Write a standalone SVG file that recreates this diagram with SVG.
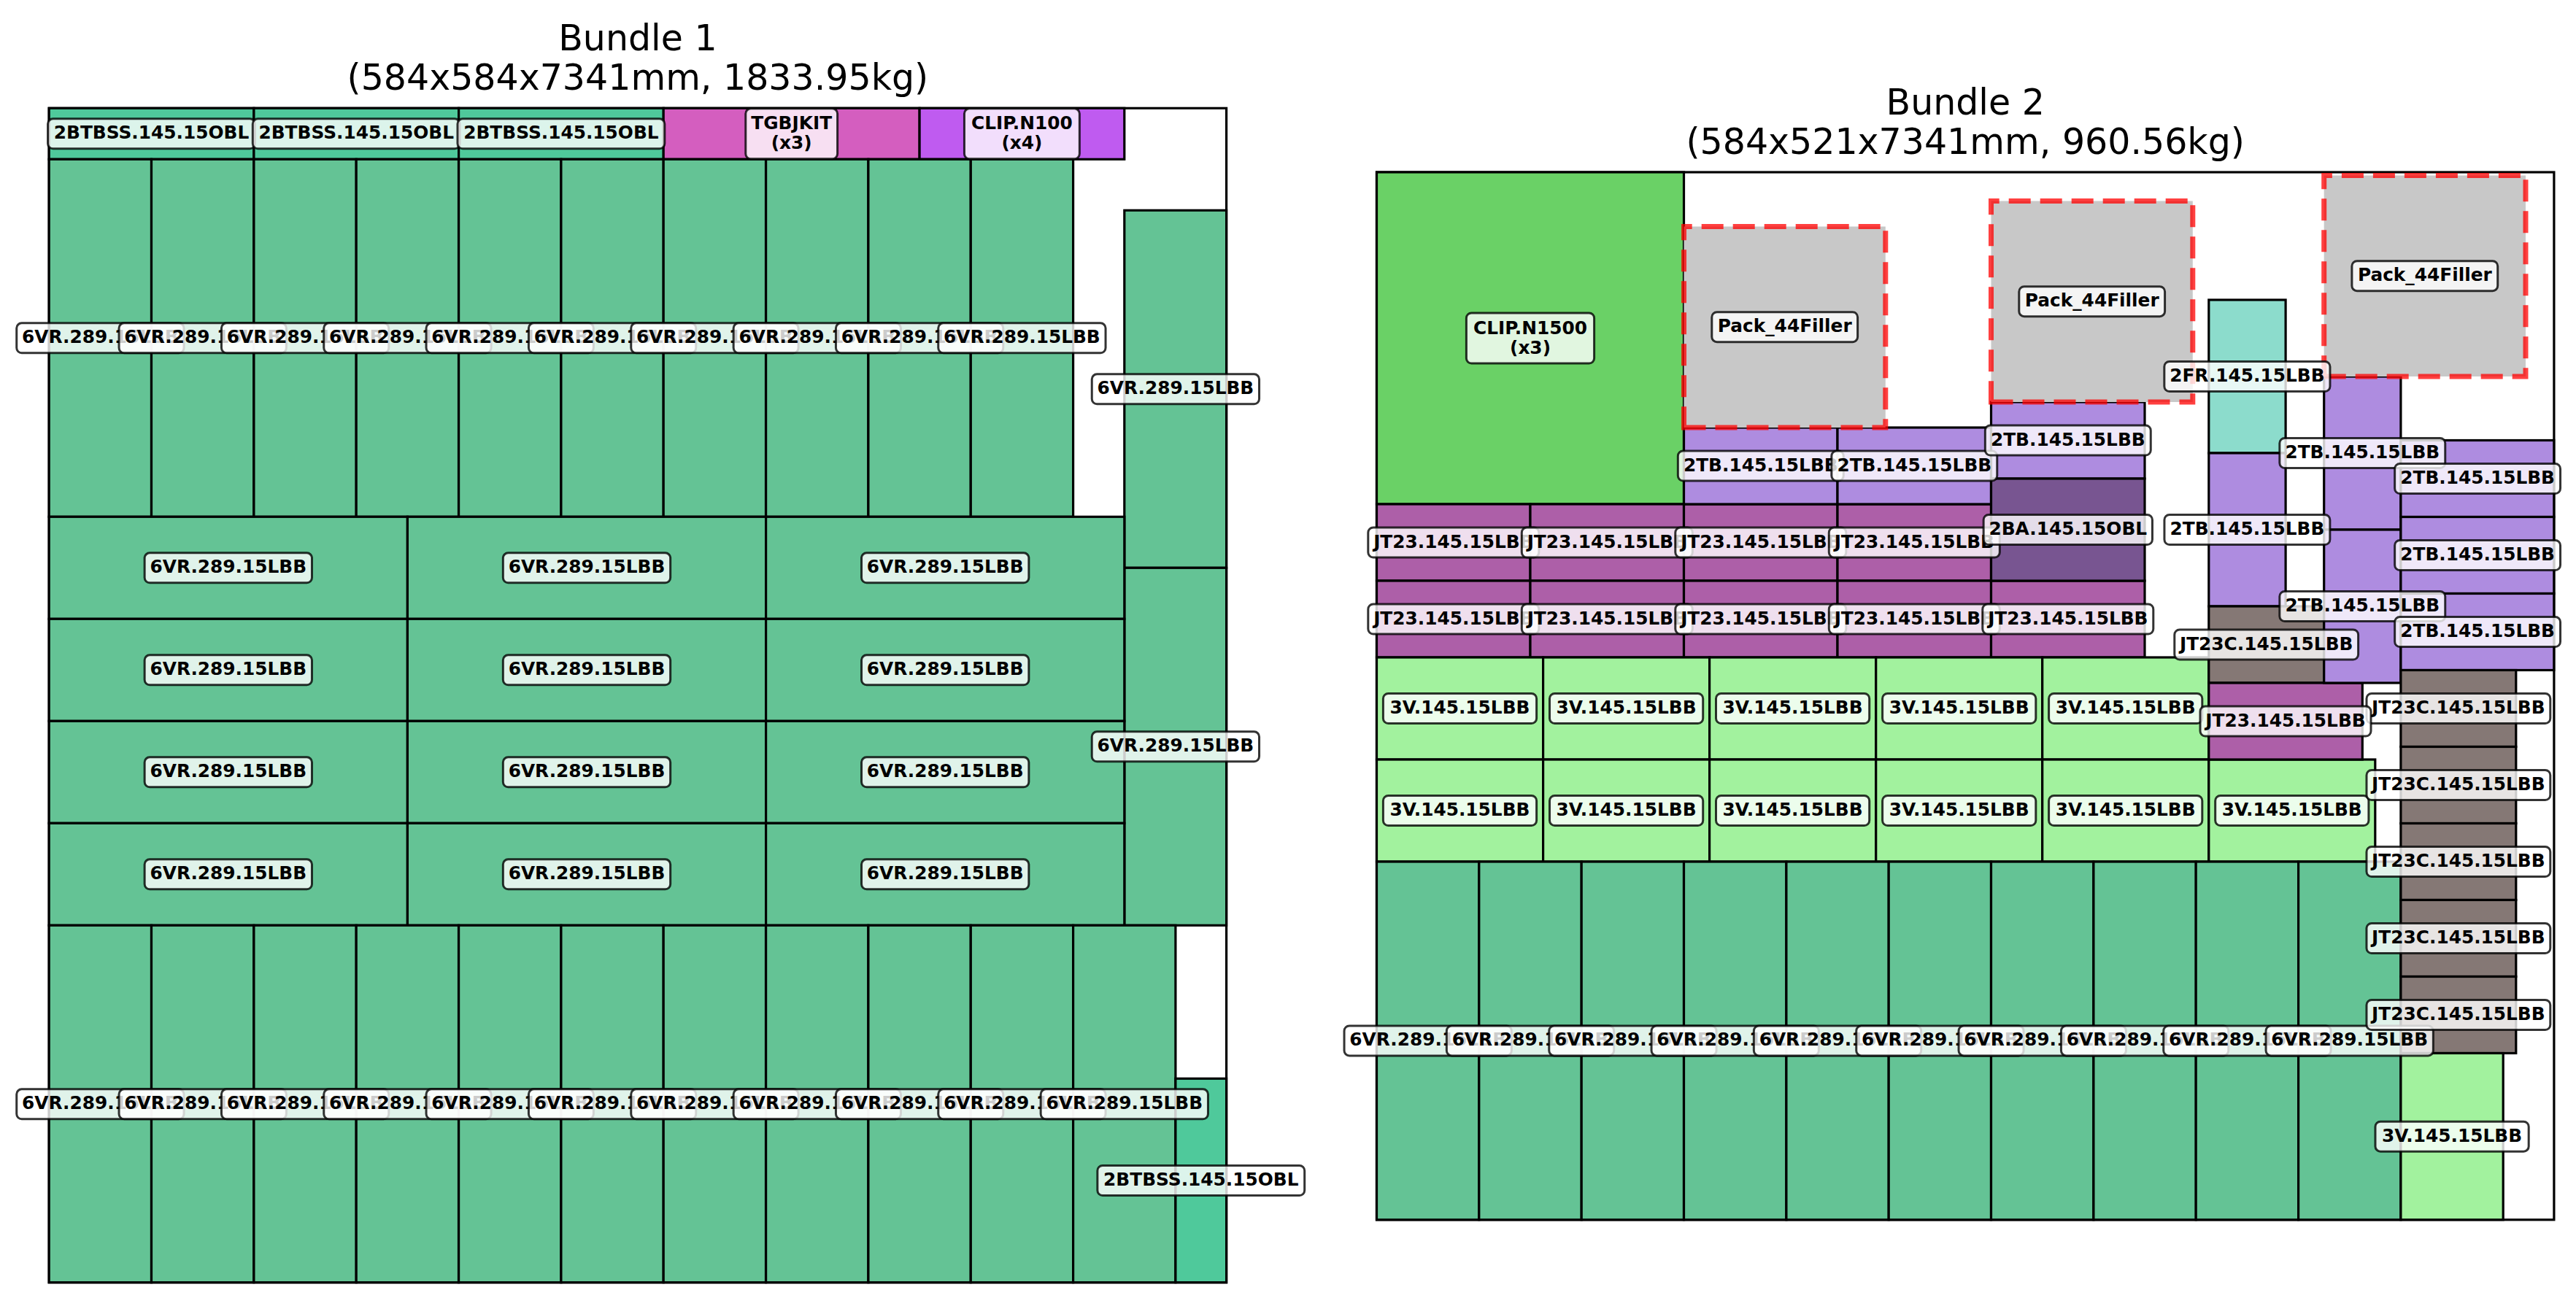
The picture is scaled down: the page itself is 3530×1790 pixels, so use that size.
<svg xmlns="http://www.w3.org/2000/svg" width="3530" height="1790" viewBox="0 0 3530 1790">
<style>
.bg{fill:#fff}
.t{font-family:"DejaVu Sans","Liberation Sans",sans-serif;font-size:49px;text-anchor:middle;fill:#000}
.it{stroke:#000;stroke-width:3.2}
.ol{fill:none;stroke:#000;stroke-width:3.2}
.v6{fill:#64c395}.bt{fill:#4fc99b}.tg{fill:#d45ebf}.cn{fill:#bf5bf0}.cl{fill:#6ad166}.jt{fill:#ad5fa8}.tb{fill:#ae8ce0}.ba{fill:#785591}.v3{fill:#a2f29e}.fr{fill:#8cdccc}.jc{fill:#857875}
.fl{fill:#c8c8c8;stroke:#ff0000;stroke-opacity:.75;stroke-width:7;stroke-dasharray:30 13}
.lb rect{fill:#fff;fill-opacity:.8;stroke:#000;stroke-opacity:.8;stroke-width:3}
.lb text{font-family:"DejaVu Sans","Liberation Sans",sans-serif;font-weight:bold;font-size:24.8px;text-anchor:middle;fill:#000}
</style>
<rect class="bg" x="0" y="0" width="3530" height="1790"/>

<g id="titles">
<text class="t" x="873.9" y="69">Bundle 1</text>
<text class="t" x="873.9" y="123.3">(584x584x7341mm, 1833.95kg)</text>
<text class="t" x="2693.2" y="156.7">Bundle 2</text>
<text class="t" x="2693.2" y="211">(584x521x7341mm, 960.56kg)</text>
</g>

<!-- ================= BUNDLE 1 ================= -->
<g id="bundle1">
<rect id="b1-outline" class="ol" x="67.2" y="148.3" width="1613.4" height="1609.4"/>
<g id="b1-top-2btbss-1"><rect class="it bt" x="67.2" y="148.3" width="280.7" height="70"/></g>
<g id="b1-top-2btbss-2"><rect class="it bt" x="347.9" y="148.3" width="280.7" height="70"/></g>
<g id="b1-top-2btbss-3"><rect class="it bt" x="628.6" y="148.3" width="280.7" height="70"/></g>
<g id="b1-tgbjkit"><rect class="it tg" x="909.2" y="148.3" width="350.9" height="70"/></g>
<g id="b1-clipn100"><rect class="it cn" x="1260.1" y="148.3" width="280.7" height="70"/></g>

<g id="b1-r2-6vr-1"><rect class="it v6" x="67.2" y="218.3" width="140.3" height="490"/></g>
<g id="b1-r2-6vr-2"><rect class="it v6" x="207.5" y="218.3" width="140.3" height="490"/></g>
<g id="b1-r2-6vr-3"><rect class="it v6" x="347.9" y="218.3" width="140.3" height="490"/></g>
<g id="b1-r2-6vr-4"><rect class="it v6" x="488.2" y="218.3" width="140.3" height="490"/></g>
<g id="b1-r2-6vr-5"><rect class="it v6" x="628.6" y="218.3" width="140.3" height="490"/></g>
<g id="b1-r2-6vr-6"><rect class="it v6" x="768.9" y="218.3" width="140.3" height="490"/></g>
<g id="b1-r2-6vr-7"><rect class="it v6" x="909.2" y="218.3" width="140.3" height="490"/></g>
<g id="b1-r2-6vr-8"><rect class="it v6" x="1049.6" y="218.3" width="140.3" height="490"/></g>
<g id="b1-r2-6vr-9"><rect class="it v6" x="1189.9" y="218.3" width="140.3" height="490"/></g>
<g id="b1-r2-6vr-10"><rect class="it v6" x="1330.3" y="218.3" width="140.3" height="490"/></g>

<g id="b1-rc-6vr-1"><rect class="it v6" x="1540.8" y="288.3" width="139.8" height="490"/></g>
<g id="b1-rc-6vr-2"><rect class="it v6" x="1540.8" y="778.3" width="139.8" height="490"/></g>

<g id="b1-h-6vr-1"><rect class="it v6" x="67.2" y="708.3" width="491.2" height="140"/></g>
<g id="b1-h-6vr-2"><rect class="it v6" x="558.4" y="708.3" width="491.2" height="140"/></g>
<g id="b1-h-6vr-3"><rect class="it v6" x="1049.6" y="708.3" width="491.2" height="140"/></g>
<g id="b1-h-6vr-4"><rect class="it v6" x="67.2" y="848.3" width="491.2" height="140"/></g>
<g id="b1-h-6vr-5"><rect class="it v6" x="558.4" y="848.3" width="491.2" height="140"/></g>
<g id="b1-h-6vr-6"><rect class="it v6" x="1049.6" y="848.3" width="491.2" height="140"/></g>
<g id="b1-h-6vr-7"><rect class="it v6" x="67.2" y="988.3" width="491.2" height="140"/></g>
<g id="b1-h-6vr-8"><rect class="it v6" x="558.4" y="988.3" width="491.2" height="140"/></g>
<g id="b1-h-6vr-9"><rect class="it v6" x="1049.6" y="988.3" width="491.2" height="140"/></g>
<g id="b1-h-6vr-10"><rect class="it v6" x="67.2" y="1128.3" width="491.2" height="140"/></g>
<g id="b1-h-6vr-11"><rect class="it v6" x="558.4" y="1128.3" width="491.2" height="140"/></g>
<g id="b1-h-6vr-12"><rect class="it v6" x="1049.6" y="1128.3" width="491.2" height="140"/></g>

<g id="b1-bot-6vr-1"><rect class="it v6" x="67.2" y="1268.3" width="140.3" height="489.4"/></g>
<g id="b1-bot-6vr-2"><rect class="it v6" x="207.5" y="1268.3" width="140.3" height="489.4"/></g>
<g id="b1-bot-6vr-3"><rect class="it v6" x="347.9" y="1268.3" width="140.3" height="489.4"/></g>
<g id="b1-bot-6vr-4"><rect class="it v6" x="488.2" y="1268.3" width="140.3" height="489.4"/></g>
<g id="b1-bot-6vr-5"><rect class="it v6" x="628.6" y="1268.3" width="140.3" height="489.4"/></g>
<g id="b1-bot-6vr-6"><rect class="it v6" x="768.9" y="1268.3" width="140.3" height="489.4"/></g>
<g id="b1-bot-6vr-7"><rect class="it v6" x="909.2" y="1268.3" width="140.3" height="489.4"/></g>
<g id="b1-bot-6vr-8"><rect class="it v6" x="1049.6" y="1268.3" width="140.3" height="489.4"/></g>
<g id="b1-bot-6vr-9"><rect class="it v6" x="1189.9" y="1268.3" width="140.3" height="489.4"/></g>
<g id="b1-bot-6vr-10"><rect class="it v6" x="1330.3" y="1268.3" width="140.3" height="489.4"/></g>
<g id="b1-bot-6vr-11"><rect class="it v6" x="1470.6" y="1268.3" width="140.3" height="489.4"/></g>
<g id="b1-2btbss-v"><rect class="it bt" x="1610.9" y="1478.3" width="69.7" height="279.4"/></g>
</g>

<!-- ================= BUNDLE 2 ================= -->
<g id="bundle2">
<rect id="b2-outline" class="ol" x="1886.5" y="236" width="1613.4" height="1435.8"/>
<g id="b2-clipn1500"><rect class="it cl" x="1886.5" y="236" width="421" height="455"/></g>

<g id="b2-jt23-r1-1"><rect class="it jt" x="1886.5" y="691" width="210.5" height="105"/></g>
<g id="b2-jt23-r1-2"><rect class="it jt" x="2097" y="691" width="210.5" height="105"/></g>
<g id="b2-jt23-r1-3"><rect class="it jt" x="2307.5" y="691" width="210.5" height="105"/></g>
<g id="b2-jt23-r1-4"><rect class="it jt" x="2518" y="691" width="210.5" height="105"/></g>
<g id="b2-jt23-r2-1"><rect class="it jt" x="1886.5" y="796" width="210.5" height="105"/></g>
<g id="b2-jt23-r2-2"><rect class="it jt" x="2097" y="796" width="210.5" height="105"/></g>
<g id="b2-jt23-r2-3"><rect class="it jt" x="2307.5" y="796" width="210.5" height="105"/></g>
<g id="b2-jt23-r2-4"><rect class="it jt" x="2518" y="796" width="210.5" height="105"/></g>
<g id="b2-jt23-r2-5"><rect class="it jt" x="2728.5" y="796" width="210.5" height="105"/></g>

<g id="b2-2tb-a"><rect class="it tb" x="2307.5" y="586" width="210.5" height="105"/></g>
<g id="b2-2tb-b"><rect class="it tb" x="2518" y="586" width="210.5" height="105"/></g>
<g id="b2-2tb-c"><rect class="it tb" x="2728.5" y="551" width="210.5" height="105"/></g>
<g id="b2-2ba"><rect class="it ba" x="2728.5" y="656" width="210.5" height="140"/></g>

<g id="b2-3v-r1-1"><rect class="it v3" x="1886.5" y="901" width="228.1" height="140"/></g>
<g id="b2-3v-r1-2"><rect class="it v3" x="2114.6" y="901" width="228" height="140"/></g>
<g id="b2-3v-r1-3"><rect class="it v3" x="2342.6" y="901" width="228.1" height="140"/></g>
<g id="b2-3v-r1-4"><rect class="it v3" x="2570.7" y="901" width="228" height="140"/></g>
<g id="b2-3v-r1-5"><rect class="it v3" x="2798.7" y="901" width="228.1" height="140"/></g>
<g id="b2-3v-r2-1"><rect class="it v3" x="1886.5" y="1041" width="228.1" height="140"/></g>
<g id="b2-3v-r2-2"><rect class="it v3" x="2114.6" y="1041" width="228" height="140"/></g>
<g id="b2-3v-r2-3"><rect class="it v3" x="2342.6" y="1041" width="228.1" height="140"/></g>
<g id="b2-3v-r2-4"><rect class="it v3" x="2570.7" y="1041" width="228" height="140"/></g>
<g id="b2-3v-r2-5"><rect class="it v3" x="2798.7" y="1041" width="228.1" height="140"/></g>
<g id="b2-3v-r2-6"><rect class="it v3" x="3026.8" y="1041" width="228" height="140"/></g>

<g id="b2-6vr-1"><rect class="it v6" x="1886.5" y="1181" width="140.3" height="490.8"/></g>
<g id="b2-6vr-2"><rect class="it v6" x="2026.8" y="1181" width="140.4" height="490.8"/></g>
<g id="b2-6vr-3"><rect class="it v6" x="2167.2" y="1181" width="140.3" height="490.8"/></g>
<g id="b2-6vr-4"><rect class="it v6" x="2307.5" y="1181" width="140.4" height="490.8"/></g>
<g id="b2-6vr-5"><rect class="it v6" x="2447.9" y="1181" width="140.3" height="490.8"/></g>
<g id="b2-6vr-6"><rect class="it v6" x="2588.2" y="1181" width="140.3" height="490.8"/></g>
<g id="b2-6vr-7"><rect class="it v6" x="2728.5" y="1181" width="140.4" height="490.8"/></g>
<g id="b2-6vr-8"><rect class="it v6" x="2868.9" y="1181" width="140.3" height="490.8"/></g>
<g id="b2-6vr-9"><rect class="it v6" x="3009.2" y="1181" width="140.4" height="490.8"/></g>
<g id="b2-6vr-10"><rect class="it v6" x="3149.6" y="1181" width="140.3" height="490.8"/></g>

<g id="b2-2fr"><rect class="it fr" x="3026.8" y="411" width="105.3" height="210"/></g>
<g id="b2-2tb-d"><rect class="it tb" x="3026.8" y="621" width="105.3" height="210"/></g>
<g id="b2-jt23c-a"><rect class="it jc" x="3026.8" y="831" width="157.9" height="105"/></g>
<g id="b2-jt23-x"><rect class="it jt" x="3026.8" y="936" width="210.5" height="105"/></g>
<g id="b2-2tb-e"><rect class="it tb" x="3184.7" y="516" width="105.2" height="210"/></g>
<g id="b2-2tb-f"><rect class="it tb" x="3184.7" y="726" width="105.2" height="210"/></g>
<g id="b2-2tb-g"><rect class="it tb" x="3289.9" y="603.5" width="209.9" height="105"/></g>
<g id="b2-2tb-h"><rect class="it tb" x="3289.9" y="708.5" width="209.9" height="105"/></g>
<g id="b2-2tb-i"><rect class="it tb" x="3289.9" y="813.5" width="209.9" height="105"/></g>
<g id="b2-jt23c-1"><rect class="it jc" x="3289.9" y="918.5" width="157.9" height="105"/></g>
<g id="b2-jt23c-2"><rect class="it jc" x="3289.9" y="1023.5" width="157.9" height="105"/></g>
<g id="b2-jt23c-3"><rect class="it jc" x="3289.9" y="1128.5" width="157.9" height="105"/></g>
<g id="b2-jt23c-4"><rect class="it jc" x="3289.9" y="1233.5" width="157.9" height="105"/></g>
<g id="b2-jt23c-5"><rect class="it jc" x="3289.9" y="1338.5" width="157.9" height="105"/></g>
<g id="b2-3v-vert"><rect class="it v3" x="3289.9" y="1443.5" width="140.3" height="228.3"/></g>

<g id="b2-filler-1"><path class="fl" d="M2307.5,586H2583.8V310.4H2307.5Z"/></g>
<g id="b2-filler-2"><path class="fl" d="M2728.5,551H3004.8V275.4H2728.5Z"/></g>
<g id="b2-filler-3"><path class="fl" d="M3184.7,516H3461V240.4H3184.7Z"/></g>
</g>

<!-- ================= LABELS ================= -->
<g id="labels-b1">
<g class="lb" transform="translate(137.4,1513.3)"><rect x="-114.65" y="-20.5" width="229.3" height="41" rx="7"/><text y="7">6VR.289.15LBB</text></g>
<g class="lb" transform="translate(277.7,1513.3)"><rect x="-114.65" y="-20.5" width="229.3" height="41" rx="7"/><text y="7">6VR.289.15LBB</text></g>
<g class="lb" transform="translate(418.1,1513.3)"><rect x="-114.65" y="-20.5" width="229.3" height="41" rx="7"/><text y="7">6VR.289.15LBB</text></g>
<g class="lb" transform="translate(558.4,1513.3)"><rect x="-114.65" y="-20.5" width="229.3" height="41" rx="7"/><text y="7">6VR.289.15LBB</text></g>
<g class="lb" transform="translate(698.7,1513.3)"><rect x="-114.65" y="-20.5" width="229.3" height="41" rx="7"/><text y="7">6VR.289.15LBB</text></g>
<g class="lb" transform="translate(839.1,1513.3)"><rect x="-114.65" y="-20.5" width="229.3" height="41" rx="7"/><text y="7">6VR.289.15LBB</text></g>
<g class="lb" transform="translate(979.4,1513.3)"><rect x="-114.65" y="-20.5" width="229.3" height="41" rx="7"/><text y="7">6VR.289.15LBB</text></g>
<g class="lb" transform="translate(1119.8,1513.3)"><rect x="-114.65" y="-20.5" width="229.3" height="41" rx="7"/><text y="7">6VR.289.15LBB</text></g>
<g class="lb" transform="translate(1260.1,1513.3)"><rect x="-114.65" y="-20.5" width="229.3" height="41" rx="7"/><text y="7">6VR.289.15LBB</text></g>
<g class="lb" transform="translate(1400.4,1513.3)"><rect x="-114.65" y="-20.5" width="229.3" height="41" rx="7"/><text y="7">6VR.289.15LBB</text></g>
<g class="lb" transform="translate(1540.8,1513.3)"><rect x="-114.65" y="-20.5" width="229.3" height="41" rx="7"/><text y="7">6VR.289.15LBB</text></g>
<g class="lb" transform="translate(1645.8,1618)"><rect x="-141.9" y="-20.5" width="283.8" height="41" rx="7"/><text y="7">2BTBSS.145.15OBL</text></g>

<g class="lb" transform="translate(312.8,778.3)"><rect x="-114.65" y="-20.5" width="229.3" height="41" rx="7"/><text y="7">6VR.289.15LBB</text></g>
<g class="lb" transform="translate(804,778.3)"><rect x="-114.65" y="-20.5" width="229.3" height="41" rx="7"/><text y="7">6VR.289.15LBB</text></g>
<g class="lb" transform="translate(1295.2,778.3)"><rect x="-114.65" y="-20.5" width="229.3" height="41" rx="7"/><text y="7">6VR.289.15LBB</text></g>
<g class="lb" transform="translate(312.8,918.3)"><rect x="-114.65" y="-20.5" width="229.3" height="41" rx="7"/><text y="7">6VR.289.15LBB</text></g>
<g class="lb" transform="translate(804,918.3)"><rect x="-114.65" y="-20.5" width="229.3" height="41" rx="7"/><text y="7">6VR.289.15LBB</text></g>
<g class="lb" transform="translate(1295.2,918.3)"><rect x="-114.65" y="-20.5" width="229.3" height="41" rx="7"/><text y="7">6VR.289.15LBB</text></g>
<g class="lb" transform="translate(312.8,1058.3)"><rect x="-114.65" y="-20.5" width="229.3" height="41" rx="7"/><text y="7">6VR.289.15LBB</text></g>
<g class="lb" transform="translate(804,1058.3)"><rect x="-114.65" y="-20.5" width="229.3" height="41" rx="7"/><text y="7">6VR.289.15LBB</text></g>
<g class="lb" transform="translate(1295.2,1058.3)"><rect x="-114.65" y="-20.5" width="229.3" height="41" rx="7"/><text y="7">6VR.289.15LBB</text></g>
<g class="lb" transform="translate(312.8,1198.3)"><rect x="-114.65" y="-20.5" width="229.3" height="41" rx="7"/><text y="7">6VR.289.15LBB</text></g>
<g class="lb" transform="translate(804,1198.3)"><rect x="-114.65" y="-20.5" width="229.3" height="41" rx="7"/><text y="7">6VR.289.15LBB</text></g>
<g class="lb" transform="translate(1295.2,1198.3)"><rect x="-114.65" y="-20.5" width="229.3" height="41" rx="7"/><text y="7">6VR.289.15LBB</text></g>

<g class="lb" transform="translate(1610.9,1023.3)"><rect x="-114.65" y="-20.5" width="229.3" height="41" rx="7"/><text y="7">6VR.289.15LBB</text></g>
<g class="lb" transform="translate(1610.9,533.3)"><rect x="-114.65" y="-20.5" width="229.3" height="41" rx="7"/><text y="7">6VR.289.15LBB</text></g>

<g class="lb" transform="translate(137.4,463.3)"><rect x="-114.65" y="-20.5" width="229.3" height="41" rx="7"/><text y="7">6VR.289.15LBB</text></g>
<g class="lb" transform="translate(277.7,463.3)"><rect x="-114.65" y="-20.5" width="229.3" height="41" rx="7"/><text y="7">6VR.289.15LBB</text></g>
<g class="lb" transform="translate(418.1,463.3)"><rect x="-114.65" y="-20.5" width="229.3" height="41" rx="7"/><text y="7">6VR.289.15LBB</text></g>
<g class="lb" transform="translate(558.4,463.3)"><rect x="-114.65" y="-20.5" width="229.3" height="41" rx="7"/><text y="7">6VR.289.15LBB</text></g>
<g class="lb" transform="translate(698.7,463.3)"><rect x="-114.65" y="-20.5" width="229.3" height="41" rx="7"/><text y="7">6VR.289.15LBB</text></g>
<g class="lb" transform="translate(839.1,463.3)"><rect x="-114.65" y="-20.5" width="229.3" height="41" rx="7"/><text y="7">6VR.289.15LBB</text></g>
<g class="lb" transform="translate(979.4,463.3)"><rect x="-114.65" y="-20.5" width="229.3" height="41" rx="7"/><text y="7">6VR.289.15LBB</text></g>
<g class="lb" transform="translate(1119.8,463.3)"><rect x="-114.65" y="-20.5" width="229.3" height="41" rx="7"/><text y="7">6VR.289.15LBB</text></g>
<g class="lb" transform="translate(1260.1,463.3)"><rect x="-114.65" y="-20.5" width="229.3" height="41" rx="7"/><text y="7">6VR.289.15LBB</text></g>
<g class="lb" transform="translate(1400.4,463.3)"><rect x="-114.65" y="-20.5" width="229.3" height="41" rx="7"/><text y="7">6VR.289.15LBB</text></g>

<g class="lb" transform="translate(207.5,183.3)"><rect x="-141.9" y="-20.5" width="283.8" height="41" rx="7"/><text y="7">2BTBSS.145.15OBL</text></g>
<g class="lb" transform="translate(488.2,183.3)"><rect x="-141.9" y="-20.5" width="283.8" height="41" rx="7"/><text y="7">2BTBSS.145.15OBL</text></g>
<g class="lb" transform="translate(768.9,183.3)"><rect x="-141.9" y="-20.5" width="283.8" height="41" rx="7"/><text y="7">2BTBSS.145.15OBL</text></g>
<g class="lb" transform="translate(1084.7,183.3)"><rect x="-62.9" y="-34.5" width="125.8" height="69" rx="7"/><text><tspan x="0" y="-6">TGBJKIT</tspan><tspan x="0" y="21">(x3)</tspan></text></g>
<g class="lb" transform="translate(1400.4,183.3)"><rect x="-78.95" y="-34.5" width="157.9" height="69" rx="7"/><text><tspan x="0" y="-6">CLIP.N100</tspan><tspan x="0" y="21">(x4)</tspan></text></g>
</g>

<g id="labels-b2">
<g class="lb" transform="translate(1956.7,1426.4)"><rect x="-114.65" y="-20.5" width="229.3" height="41" rx="7"/><text y="7">6VR.289.15LBB</text></g>
<g class="lb" transform="translate(2097,1426.4)"><rect x="-114.65" y="-20.5" width="229.3" height="41" rx="7"/><text y="7">6VR.289.15LBB</text></g>
<g class="lb" transform="translate(2237.4,1426.4)"><rect x="-114.65" y="-20.5" width="229.3" height="41" rx="7"/><text y="7">6VR.289.15LBB</text></g>
<g class="lb" transform="translate(2377.7,1426.4)"><rect x="-114.65" y="-20.5" width="229.3" height="41" rx="7"/><text y="7">6VR.289.15LBB</text></g>
<g class="lb" transform="translate(2518,1426.4)"><rect x="-114.65" y="-20.5" width="229.3" height="41" rx="7"/><text y="7">6VR.289.15LBB</text></g>
<g class="lb" transform="translate(2658.4,1426.4)"><rect x="-114.65" y="-20.5" width="229.3" height="41" rx="7"/><text y="7">6VR.289.15LBB</text></g>
<g class="lb" transform="translate(2798.7,1426.4)"><rect x="-114.65" y="-20.5" width="229.3" height="41" rx="7"/><text y="7">6VR.289.15LBB</text></g>
<g class="lb" transform="translate(2939.1,1426.4)"><rect x="-114.65" y="-20.5" width="229.3" height="41" rx="7"/><text y="7">6VR.289.15LBB</text></g>
<g class="lb" transform="translate(3079.4,1426.4)"><rect x="-114.65" y="-20.5" width="229.3" height="41" rx="7"/><text y="7">6VR.289.15LBB</text></g>
<g class="lb" transform="translate(3219.7,1426.4)"><rect x="-114.65" y="-20.5" width="229.3" height="41" rx="7"/><text y="7">6VR.289.15LBB</text></g>

<g class="lb" transform="translate(2000.5,1111)"><rect x="-105.1" y="-20.5" width="210.2" height="41" rx="7"/><text y="7">3V.145.15LBB</text></g>
<g class="lb" transform="translate(2228.6,1111)"><rect x="-105.1" y="-20.5" width="210.2" height="41" rx="7"/><text y="7">3V.145.15LBB</text></g>
<g class="lb" transform="translate(2456.6,1111)"><rect x="-105.1" y="-20.5" width="210.2" height="41" rx="7"/><text y="7">3V.145.15LBB</text></g>
<g class="lb" transform="translate(2684.7,1111)"><rect x="-105.1" y="-20.5" width="210.2" height="41" rx="7"/><text y="7">3V.145.15LBB</text></g>
<g class="lb" transform="translate(2912.7,1111)"><rect x="-105.1" y="-20.5" width="210.2" height="41" rx="7"/><text y="7">3V.145.15LBB</text></g>
<g class="lb" transform="translate(3140.8,1111)"><rect x="-105.1" y="-20.5" width="210.2" height="41" rx="7"/><text y="7">3V.145.15LBB</text></g>
<g class="lb" transform="translate(3360.1,1557.7)"><rect x="-105.1" y="-20.5" width="210.2" height="41" rx="7"/><text y="7">3V.145.15LBB</text></g>
<g class="lb" transform="translate(2000.5,971)"><rect x="-105.1" y="-20.5" width="210.2" height="41" rx="7"/><text y="7">3V.145.15LBB</text></g>
<g class="lb" transform="translate(2228.6,971)"><rect x="-105.1" y="-20.5" width="210.2" height="41" rx="7"/><text y="7">3V.145.15LBB</text></g>
<g class="lb" transform="translate(2456.6,971)"><rect x="-105.1" y="-20.5" width="210.2" height="41" rx="7"/><text y="7">3V.145.15LBB</text></g>
<g class="lb" transform="translate(2684.7,971)"><rect x="-105.1" y="-20.5" width="210.2" height="41" rx="7"/><text y="7">3V.145.15LBB</text></g>
<g class="lb" transform="translate(2912.7,971)"><rect x="-105.1" y="-20.5" width="210.2" height="41" rx="7"/><text y="7">3V.145.15LBB</text></g>

<g class="lb" transform="translate(3368.9,1391)"><rect x="-125.9" y="-20.5" width="251.8" height="41" rx="7"/><text y="7">JT23C.145.15LBB</text></g>
<g class="lb" transform="translate(3368.9,1286)"><rect x="-125.9" y="-20.5" width="251.8" height="41" rx="7"/><text y="7">JT23C.145.15LBB</text></g>
<g class="lb" transform="translate(3368.9,1181)"><rect x="-125.9" y="-20.5" width="251.8" height="41" rx="7"/><text y="7">JT23C.145.15LBB</text></g>
<g class="lb" transform="translate(3368.9,1076)"><rect x="-125.9" y="-20.5" width="251.8" height="41" rx="7"/><text y="7">JT23C.145.15LBB</text></g>
<g class="lb" transform="translate(3368.9,971)"><rect x="-125.9" y="-20.5" width="251.8" height="41" rx="7"/><text y="7">JT23C.145.15LBB</text></g>
<g class="lb" transform="translate(3132,988.5)"><rect x="-117" y="-20.5" width="234" height="41" rx="7"/><text y="7">JT23.145.15LBB</text></g>
<g class="lb" transform="translate(3105.7,883.5)"><rect x="-125.9" y="-20.5" width="251.8" height="41" rx="7"/><text y="7">JT23C.145.15LBB</text></g>

<g class="lb" transform="translate(1991.8,848.5)"><rect x="-117" y="-20.5" width="234" height="41" rx="7"/><text y="7">JT23.145.15LBB</text></g>
<g class="lb" transform="translate(2202.3,848.5)"><rect x="-117" y="-20.5" width="234" height="41" rx="7"/><text y="7">JT23.145.15LBB</text></g>
<g class="lb" transform="translate(2412.8,848.5)"><rect x="-117" y="-20.5" width="234" height="41" rx="7"/><text y="7">JT23.145.15LBB</text></g>
<g class="lb" transform="translate(2623.3,848.5)"><rect x="-117" y="-20.5" width="234" height="41" rx="7"/><text y="7">JT23.145.15LBB</text></g>
<g class="lb" transform="translate(2833.8,848.5)"><rect x="-117" y="-20.5" width="234" height="41" rx="7"/><text y="7">JT23.145.15LBB</text></g>
<g class="lb" transform="translate(1991.8,743.5)"><rect x="-117" y="-20.5" width="234" height="41" rx="7"/><text y="7">JT23.145.15LBB</text></g>
<g class="lb" transform="translate(2202.3,743.5)"><rect x="-117" y="-20.5" width="234" height="41" rx="7"/><text y="7">JT23.145.15LBB</text></g>
<g class="lb" transform="translate(2412.8,743.5)"><rect x="-117" y="-20.5" width="234" height="41" rx="7"/><text y="7">JT23.145.15LBB</text></g>
<g class="lb" transform="translate(2623.3,743.5)"><rect x="-117" y="-20.5" width="234" height="41" rx="7"/><text y="7">JT23.145.15LBB</text></g>
<g class="lb" transform="translate(2833.8,726)"><rect x="-115.65" y="-20.5" width="231.3" height="41" rx="7"/><text y="7">2BA.145.15OBL</text></g>

<g class="lb" transform="translate(2412.8,638.5)"><rect x="-113.45" y="-20.5" width="226.9" height="41" rx="7"/><text y="7">2TB.145.15LBB</text></g>
<g class="lb" transform="translate(2623.3,638.5)"><rect x="-113.45" y="-20.5" width="226.9" height="41" rx="7"/><text y="7">2TB.145.15LBB</text></g>
<g class="lb" transform="translate(2833.8,603.5)"><rect x="-113.45" y="-20.5" width="226.9" height="41" rx="7"/><text y="7">2TB.145.15LBB</text></g>
<g class="lb" transform="translate(3079.4,726)"><rect x="-113.45" y="-20.5" width="226.9" height="41" rx="7"/><text y="7">2TB.145.15LBB</text></g>
<g class="lb" transform="translate(3237.3,831)"><rect x="-113.45" y="-20.5" width="226.9" height="41" rx="7"/><text y="7">2TB.145.15LBB</text></g>
<g class="lb" transform="translate(3395.1,866)"><rect x="-113.45" y="-20.5" width="226.9" height="41" rx="7"/><text y="7">2TB.145.15LBB</text></g>
<g class="lb" transform="translate(3395.1,761)"><rect x="-113.45" y="-20.5" width="226.9" height="41" rx="7"/><text y="7">2TB.145.15LBB</text></g>
<g class="lb" transform="translate(3237.3,621)"><rect x="-113.45" y="-20.5" width="226.9" height="41" rx="7"/><text y="7">2TB.145.15LBB</text></g>
<g class="lb" transform="translate(3395.1,656)"><rect x="-113.45" y="-20.5" width="226.9" height="41" rx="7"/><text y="7">2TB.145.15LBB</text></g>
<g class="lb" transform="translate(3079.4,516)"><rect x="-113.55" y="-20.5" width="227.1" height="41" rx="7"/><text y="7">2FR.145.15LBB</text></g>

<g class="lb" transform="translate(2445.7,448.2)"><rect x="-99.9" y="-20.5" width="199.8" height="41" rx="7"/><text y="7">Pack_44Filler</text></g>
<g class="lb" transform="translate(2866.7,413.2)"><rect x="-99.9" y="-20.5" width="199.8" height="41" rx="7"/><text y="7">Pack_44Filler</text></g>
<g class="lb" transform="translate(3322.8,378.2)"><rect x="-99.9" y="-20.5" width="199.8" height="41" rx="7"/><text y="7">Pack_44Filler</text></g>
<g class="lb" transform="translate(2097,463.5)"><rect x="-87.6" y="-34.5" width="175.2" height="69" rx="7"/><text><tspan x="0" y="-6">CLIP.N1500</tspan><tspan x="0" y="21">(x3)</tspan></text></g>
</g>
</svg>
